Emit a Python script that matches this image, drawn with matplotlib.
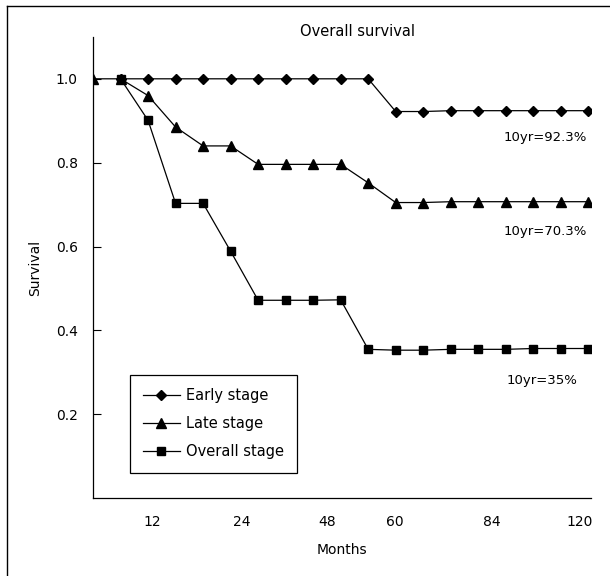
#!/usr/bin/env python3
"""Overall survival curves (early / late / overall stage)."""

import numpy as np
import matplotlib
matplotlib.use("Agg")
import matplotlib.pyplot as plt
from matplotlib.lines import Line2D

# -------------------------------------------------------------------
# Data
# -------------------------------------------------------------------
nan = np.nan
early_stage = [nan, 1.0, 1.0, 1.0, 1.0, 1.0, 1.0, 1.0, 1.0, 1.0, 1.0,
               0.922, 0.922, 0.924, 0.924, 0.924, 0.924, 0.924, 0.924]
late_stage = [1.0, 1.0, 0.960, 0.885, 0.840, 0.840, 0.796, 0.796, 0.796,
              0.796, 0.752, 0.705, 0.705, 0.707, 0.707, 0.707, 0.707,
              0.707, 0.707]
overall_stage = [nan, 1.0, 0.901, 0.703, 0.703, 0.589, 0.472, 0.472, 0.472,
                 0.473, 0.355, 0.353, 0.353, 0.355, 0.355, 0.355, 0.357,
                 0.357, 0.357]

month_labels = ["12", "24", "48", "60", "84", "120"]
month_label_pos = [2.17, 5.39, 8.5, 10.98, 14.48, 17.7]

y_ticks = [0.2, 0.4, 0.6, 0.8, 1.0]

notes = ["10yr=92.3%", "10yr=70.3%", "10yr=35%"]
note_y = [0.86, 0.635, 0.28]
note_x = [17.96, 17.96, 17.62]

# -------------------------------------------------------------------
# Figure
# -------------------------------------------------------------------
plt.rcParams["font.family"] = ["DejaVu Sans"]
plt.rcParams["font.size"] = 10

fig = plt.figure(figsize=(6.10, 5.76), dpi=100)
ax = fig.add_axes([0.1525, 0.135, 0.8165, 0.801])

x = np.arange(len(late_stage))
ax.plot(x, early_stage, color="black", lw=0.9, marker="D", ms=5.5,
        label="Early stage", zorder=3)
ax.plot(x, overall_stage, color="black", lw=0.9, marker="s", ms=6,
        label="Overall stage", zorder=3)
ax.plot(x, late_stage, color="black", lw=0.9, marker="^", ms=7.5,
        label="Late stage", zorder=4)

ax.set_xlim(0, 18.1)
ax.set_ylim(0, 1.1)

ax.set_yticks(y_ticks)
ax.set_yticklabels([f"{v:.1f}" for v in y_ticks])
ax.tick_params(axis="y", direction="in", length=6, width=0.8, pad=11)
ax.set_xticks(month_label_pos)
ax.set_xticklabels(month_labels)
ax.tick_params(axis="x", length=0, pad=12)

for side in ("top", "right"):
    ax.spines[side].set_visible(False)
for side in ("left", "bottom"):
    ax.spines[side].set_linewidth(0.9)

ax.set_xlabel("Months", labelpad=10)
ax.set_ylabel("Survival", labelpad=10)
fig.text(358 / 610, 1 - 32 / 576, "Overall survival", ha="center",
         va="center", fontsize=10.5)

for txt, xx, yy in zip(notes, note_x, note_y):
    ax.text(xx, yy, txt, ha="right", va="center", fontsize=9.5)

handles, labels = ax.get_legend_handles_labels()
order = [0, 2, 1]
leg = ax.legend([handles[i] for i in order], [labels[i] for i in order],
                loc="upper left", bbox_to_anchor=(0.0743, 0.267),
                borderaxespad=0, frameon=True, fancybox=False,
                edgecolor="black", handlelength=2.5, handletextpad=0.45,
                borderpad=0.9, labelspacing=0.9, framealpha=1,
                fontsize=10.5)
leg.get_frame().set_linewidth(0.9)

# outer frame (left and top edges only)
fig.add_artist(Line2D([7 / 610, 7 / 610], [0, 1 - 6 / 576],
                      color="black", lw=1, transform=fig.transFigure))
fig.add_artist(Line2D([7 / 610, 1], [1 - 6 / 576, 1 - 6 / 576],
                      color="black", lw=1, transform=fig.transFigure))

fig.savefig("out.png", dpi=100)
plt.close(fig)
